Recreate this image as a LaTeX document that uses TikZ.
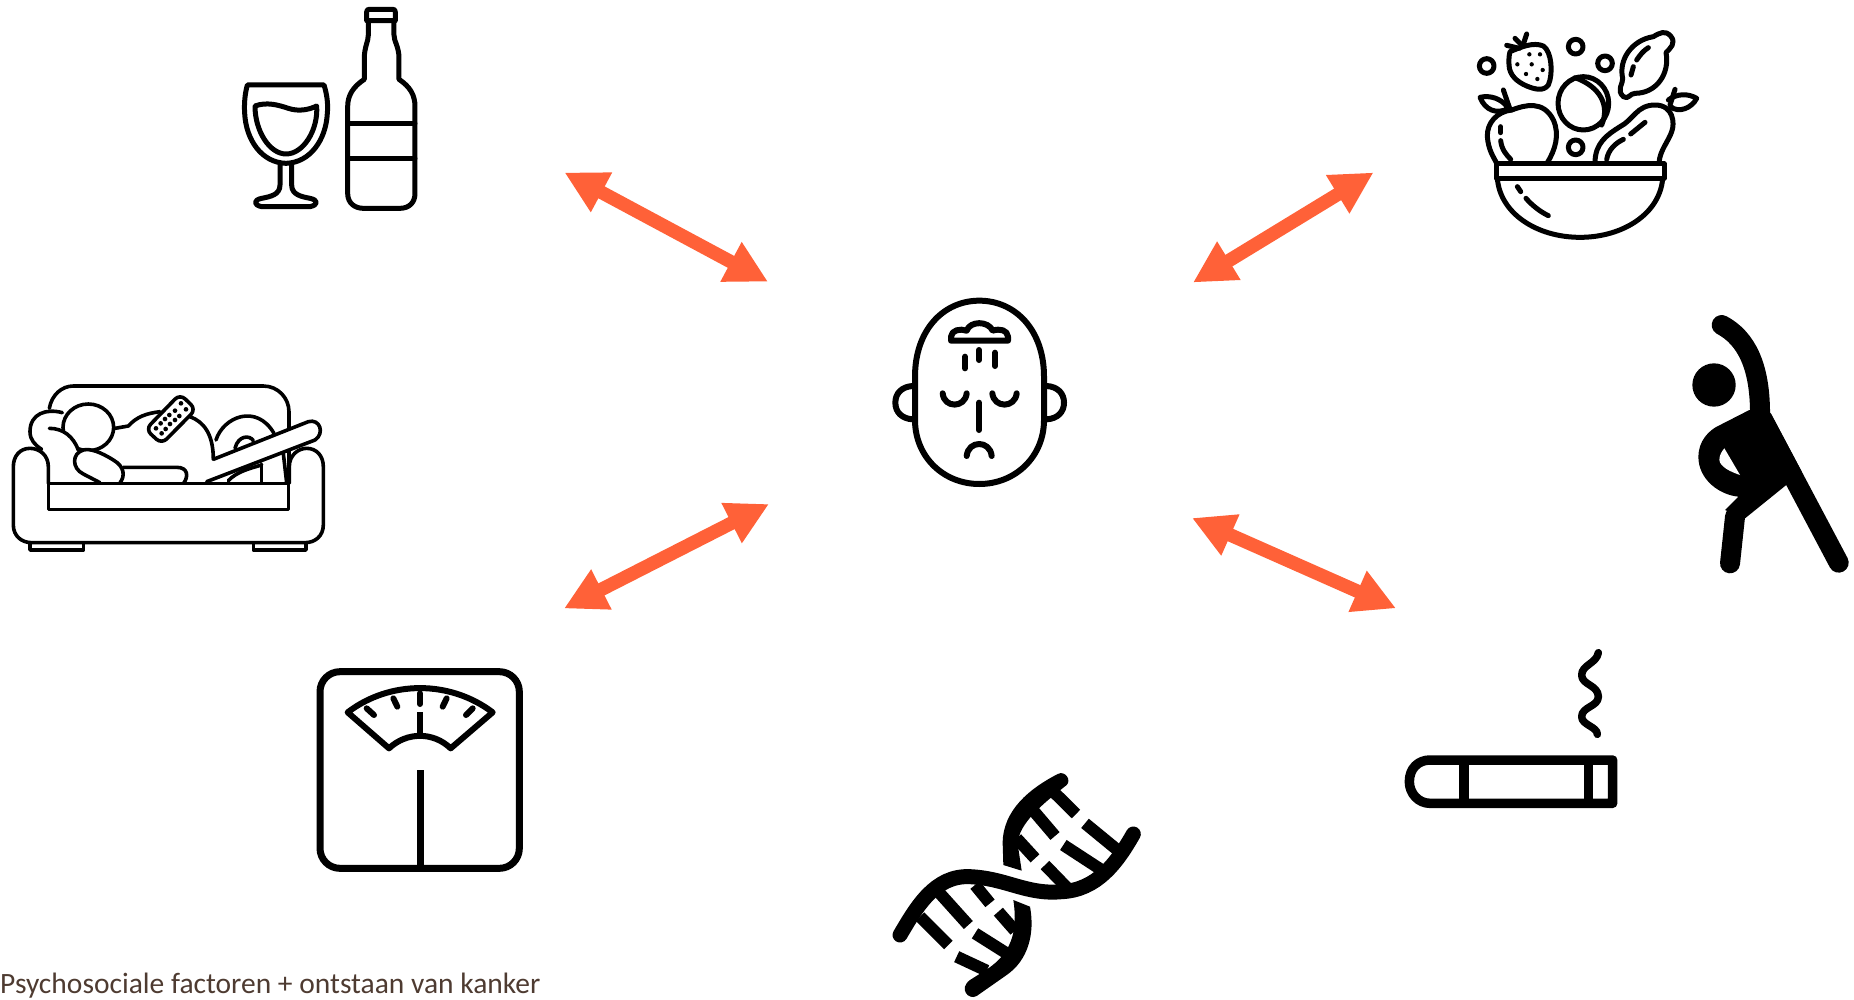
\documentclass[tikz,border=0pt]{standalone}
\usepackage{fontspec}
\setmainfont{Carlito}
\usetikzlibrary{arrows.meta}
\definecolor{arrowc}{HTML}{FF6138}
\definecolor{textc}{HTML}{4E3B31}
\tikzset{
  zm/.style 2 args={shift={(#1bp,-#2bp)},x=0.33333bp,y=-0.33333bp},
  ln/.style={draw=black,line width=#1,line cap=round,line join=round},
  ln/.default=5bp,
  link/.style={draw=arrowc,line width=13.5bp,{Triangle[length=42bp,width=42bp]}-{Triangle[length=42bp,width=42bp]}},
}
\begin{document}
\begin{tikzpicture}[x=1bp,y=-1bp]
\useasboundingbox (0,0) rectangle (1854,999);
% ---- wine and bottle
\begin{scope}[zm={220}{0}]
\draw[ln] (440,62) -- (440,36) .. controls (440,30) and (443,28) .. (448,28) -- (518,28) .. controls (523,28) and (526,30) .. (526,36) -- (526,62) -- cycle;
\draw[ln] (445,62) -- (445,105) .. controls (445,125) and (433,140) .. (433,175) -- (433,238) .. controls (400,260) and (383,285) .. (383,320) -- (383,580) .. controls (383,610) and (405,625) .. (430,625) -- (540,625) .. controls (565,625) and (585,610) .. (585,580) -- (585,320) .. controls (585,285) and (570,260) .. (537,238) -- (537,175) .. controls (537,140) and (522,125) .. (522,105) -- (522,62);
\draw[ln] (383,370) -- (585,370);
\draw[ln] (383,475) -- (585,475);
\draw[ln] (82,255) -- (312,255) .. controls (320,280) and (325,310) .. (322,340) .. controls (318,420) and (270,488) .. (198,490) .. controls (125,488) and (78,420) .. (74,340) .. controls (72,310) and (75,280) .. (82,255) -- cycle;
\draw[ln] (180,490) -- (180,555) .. controls (180,585) and (150,590) .. (125,595) .. controls (100,600) and (100,615) .. (125,620) -- (270,620) .. controls (295,615) and (295,600) .. (270,595) .. controls (245,590) and (215,585) .. (215,555) -- (215,490);
\draw[ln] (105,318) .. controls (140,305) and (175,315) .. (205,325) .. controls (235,335) and (265,330) .. (290,318) .. controls (295,390) and (250,462) .. (198,462) .. controls (150,462) and (105,395) .. (105,318) -- cycle;
\end{scope}
% ---- couch
\begin{scope}[zm={0}{370}]
\tikzset{ln/.default=3.6bp}
\draw[ln] (148,115) .. controls (155,75) and (185,48) .. (220,48) -- (790,48) .. controls (835,48) and (867,85) .. (867,125) -- (867,340);
\draw[ln] (345,175) -- (385,168) .. controls (410,140) and (440,130) .. (480,125);
\draw[ln] (570,140) .. controls (610,155) and (640,190) .. (640,268);
\draw[ln] (648,210) .. controls (670,140) and (770,100) .. (822,190);
\draw[ln] (705,235) .. controls (715,195) and (750,195) .. (760,212);
\draw[ln] (785,282) -- (785,338);
\draw[ln] (850,250) -- (860,338);
\draw[ln] (685,332) .. controls (710,305) and (750,295) .. (785,285);
\draw[ln,fill=white] (265,172) ellipse [x radius=76,y radius=70];
\fill[white] (148,175) .. controls (190,175) and (220,200) .. (235,240) -- (140,290) -- (110,225) -- cycle;
\draw[ln] (187,128) .. controls (140,115) and (90,130) .. (90,185) .. controls (90,210) and (105,225) .. (125,238);
\draw[ln] (148,175) .. controls (190,175) and (220,200) .. (235,240);
\draw[ln,fill=white] (640,268) -- (925,155) .. controls (960,145) and (975,190) .. (945,210) -- (620,335);
\draw[ln] (370,292) -- (530,292) .. controls (565,292) and (565,320) .. (552,338);
\draw[ln,fill=white] (300,338) -- (250,312) .. controls (215,295) and (215,250) .. (250,240) .. controls (270,235) and (300,245) .. (340,270) .. controls (375,290) and (375,320) .. (360,338);
\draw[ln,fill=white,rounded corners=7bp] (540,72) -- (588,118) -- (485,222) -- (437,178) -- cycle;
\foreach \p/\q in {543/100,558/118,508/135,525/122,538/138,495/147,510/162,525/150,482/160,497/177,468/175,485/190}
  \fill (\p,\q) circle [radius=7];
\draw[ln,fill=white] (145,340) -- (145,290) .. controls (145,255) and (118,235) .. (90,235) .. controls (60,235) and (40,258) .. (40,290) -- (40,465) .. controls (40,498) and (65,518) .. (95,518) -- (915,518) .. controls (945,518) and (970,498) .. (970,465) -- (970,290) .. controls (970,258) and (950,235) .. (920,235) .. controls (895,235) and (868,255) .. (868,290) -- (868,340);
\draw[ln] (145,340) rectangle (866,418);
\draw[ln] (90,520) -- (90,540) -- (250,540) -- (250,520);
\draw[ln] (760,520) -- (760,540) -- (918,540) -- (918,520);
\end{scope}
% ---- head
\begin{scope}[zm={870}{280}]
\draw[ln=6bp] (328,62) .. controls (220,62) and (135,150) .. (135,290) -- (135,420) .. controls (135,530) and (220,612) .. (328,612) .. controls (436,612) and (522,530) .. (522,420) -- (522,290) .. controls (522,150) and (436,62) .. (328,62) -- cycle;
\draw[ln=6bp] (128,318) .. controls (95,320) and (76,340) .. (76,368) .. controls (76,396) and (95,416) .. (128,418);
\draw[ln=6bp] (530,318) .. controls (563,320) and (582,340) .. (582,368) .. controls (582,396) and (563,416) .. (530,418);
\draw[ln=6bp] (243,182) -- (243,170) .. controls (245,150) and (270,145) .. (290,152) .. controls (300,122) and (355,122) .. (368,152) .. controls (390,145) and (412,150) .. (414,170) -- (414,182) -- cycle;
\draw[ln=6bp] (285,230) -- (285,265);
\draw[ln=6bp] (327,210) -- (327,240);
\draw[ln=6bp] (375,218) -- (375,258);
\draw[ln=6bp] (218,340) .. controls (222,385) and (285,385) .. (290,340);
\draw[ln=6bp] (367,340) .. controls (372,385) and (435,385) .. (440,340);
\draw[ln=6bp] (327,368) -- (327,450);
\draw[ln=6bp] (290,528) .. controls (295,480) and (360,480) .. (365,528);
\end{scope}
% ---- salad bowl
\begin{scope}[zm={1460}{10}]
\draw[ln] (110,462) rectangle (612,505);
\draw[ln] (112,505) .. controls (120,610) and (230,682) .. (360,682) .. controls (490,682) and (600,610) .. (608,505);
\draw[ln] (172,530) -- (182,545);
\draw[ln] (198,565) .. controls (215,585) and (240,605) .. (265,617);
\foreach \p/\q in {80/168,347/110,435/160,347/412}
  \draw[ln] (\p,\q) circle [radius=22];
\draw[ln] (150,125) .. controls (180,112) and (220,95) .. (250,108) .. controls (275,125) and (280,190) .. (265,225) .. controls (250,245) and (225,238) .. (200,228) .. controls (170,215) and (148,195) .. (147,165) .. controls (146,150) and (147,135) .. (150,125) -- cycle;
\draw[ln] (140,106) -- (178,115);
\draw[ln] (165,85) -- (185,105);
\draw[ln] (200,72) -- (190,102);
\foreach \p/\q in {208/133,240/133,172/163,215/163,248/180,198/192,232/207}
  \fill (\p,\q) circle [radius=6.5];
\draw[ln] (370,280) ellipse [x radius=76,y radius=80];
\draw[ln] (345,203) .. controls (420,230) and (450,285) .. (425,345);
\draw[ln] (580,80) .. controls (515,90) and (475,150) .. (488,205) .. controls (490,220) and (468,240) .. (490,260) .. controls (505,270) and (510,250) .. (525,250) .. controls (590,250) and (630,190) .. (618,128) .. controls (630,115) and (650,100) .. (632,78) .. controls (615,60) and (600,68) .. (580,80) -- cycle;
\draw[ln] (513,195) -- (520,170);
\draw[ln] (530,150) .. controls (540,135) and (550,122) .. (565,113);
\draw[ln] (155,300) .. controls (110,305) and (80,340) .. (82,380) .. controls (85,420) and (100,440) .. (110,460);
\draw[ln] (155,300) .. controls (195,285) and (250,270) .. (280,330) .. controls (300,375) and (285,420) .. (262,458);
\draw[ln] (122,350) -- (122,368);
\draw[ln] (122,392) .. controls (125,420) and (140,435) .. (152,448);
\draw[ln] (130,240) -- (150,298);
\draw[ln] (60,262) .. controls (90,255) and (125,265) .. (145,295) .. controls (110,315) and (75,300) .. (60,262) -- cycle;
\draw[ln] (405,458) .. controls (405,400) and (440,375) .. (480,350) .. controls (520,330) and (530,285) .. (585,285) .. controls (640,285) and (645,340) .. (635,365) .. controls (625,395) and (600,420) .. (597,458);
\draw[ln] (440,448) .. controls (445,420) and (465,400) .. (490,388);
\draw[ln] (512,372) -- (555,337);
\draw[ln] (630,285) -- (645,238);
\draw[ln] (625,270) .. controls (650,250) and (685,250) .. (710,265) .. controls (695,295) and (655,310) .. (632,290);
\end{scope}
% ---- stretching figure
\begin{scope}[zm={1670}{300}]
\fill (132,255) circle [radius=65];
\draw[ln=20bp,line cap=round] (155,75) .. controls (230,115) and (270,200) .. (270,340);
\fill (238,330) -- (303,342) -- (395,515) -- (345,558) -- (225,655) -- (165,630) -- (205,590) .. controls (150,585) and (85,540) .. (85,470) .. controls (85,425) and (115,390) .. (150,375) -- cycle;
\fill[white] (163,445) -- (210,525) .. controls (180,515) and (150,500) .. (148,480) .. controls (148,465) and (155,455) .. (163,445) -- cycle;
\draw[ln=20bp] (277,356) -- (506,788);
\draw[ln=20bp] (195,650) -- (180,790);
\end{scope}
% ---- DNA
\begin{scope}[zm={870}{760}]
\foreach \a/\b/\c/\d in {545/90/618/162,480/140/555/228,440/235/495/295,645/190/740/268,580/255/695/330,525/315/590/382,150/470/235/555,205/395/295/495,315/375/360/430,385/455/435/512,315/520/410/580,260/590/350/632}
  \draw[line width=12bp] (\a,\b) -- (\c,\d);
\fill (563,42) .. controls (480,85) and (398,150) .. (398,250) -- (400,315) -- (455,332) -- (443,252) .. controls (445,190) and (520,130) .. (590,75) .. controls (605,60) and (585,30) .. (563,42) -- cycle;
\draw[ln=15bp] (90,525) .. controls (140,440) and (195,345) .. (300,350) .. controls (410,355) and (470,405) .. (575,395) .. controls (680,390) and (740,310) .. (790,222);
\fill (430,420) -- (480,440) .. controls (495,520) and (475,600) .. (410,645) -- (320,708) .. controls (295,722) and (265,685) .. (300,660) -- (355,625) .. controls (420,580) and (445,520) .. (430,420) -- cycle;
\end{scope}
% ---- scale
\begin{scope}[zm={300}{650}]
\draw[line width=7bp,rounded corners=20bp] (60,65) rectangle (658,655);
\draw[ln=6bp] (143,187) .. controls (270,90) and (450,90) .. (578,187) -- (452,295) .. controls (400,245) and (320,245) .. (267,295) -- cycle;
\draw[ln=6bp] (200,175) -- (222,195);
\draw[ln=6bp] (280,145) -- (292,170);
\draw[ln=6bp] (360,130) -- (360,162);
\draw[ln=6bp] (440,145) -- (428,170);
\draw[ln=6bp] (518,175) -- (498,195);
\draw[ln=6bp,line cap=butt] (360,187) -- (360,255);
\draw[line width=7bp] (360,360) -- (360,650);
\end{scope}
% ---- cigarette
\begin{scope}[zm={1390}{640}]
\draw[ln=9.5bp] (668,360) -- (120,360) .. controls (85,360) and (58,385) .. (58,425) .. controls (58,460) and (85,490) .. (120,490) -- (668,490) -- cycle;
\draw[line width=9.5bp] (222,360) -- (222,490);
\draw[line width=9.5bp] (595,360) -- (595,490);
\draw[ln=7.5bp] (625,38) .. controls (620,70) and (575,75) .. (575,105) .. controls (575,135) and (625,135) .. (625,170) .. controls (625,200) and (575,200) .. (575,230) .. controls (575,255) and (622,260) .. (622,283);
\end{scope}
% ---- arrows
\coordinate (a1s) at (564.5,172.5);
\coordinate (a1e) at (768,281.7);
\coordinate (a2s) at (1373.5,172.5);
\coordinate (a2e) at (1193,282.5);
\coordinate (a3s) at (769,504);
\coordinate (a3e) at (564,608.5);
\coordinate (a4s) at (1192,518);
\coordinate (a4e) at (1396,608.3);
\draw[link] (a1s) -- (a1e);
\draw[link] (a2s) -- (a2e);
\draw[link] (a3s) -- (a3e);
\draw[link] (a4s) -- (a4e);
\node[anchor=base west,inner sep=0pt,text=textc,font=\fontsize{29.5bp}{31bp}\selectfont] (caption) at (0,993.5) {Psychosociale factoren + ontstaan van kanker};
\end{tikzpicture}
\end{document}
